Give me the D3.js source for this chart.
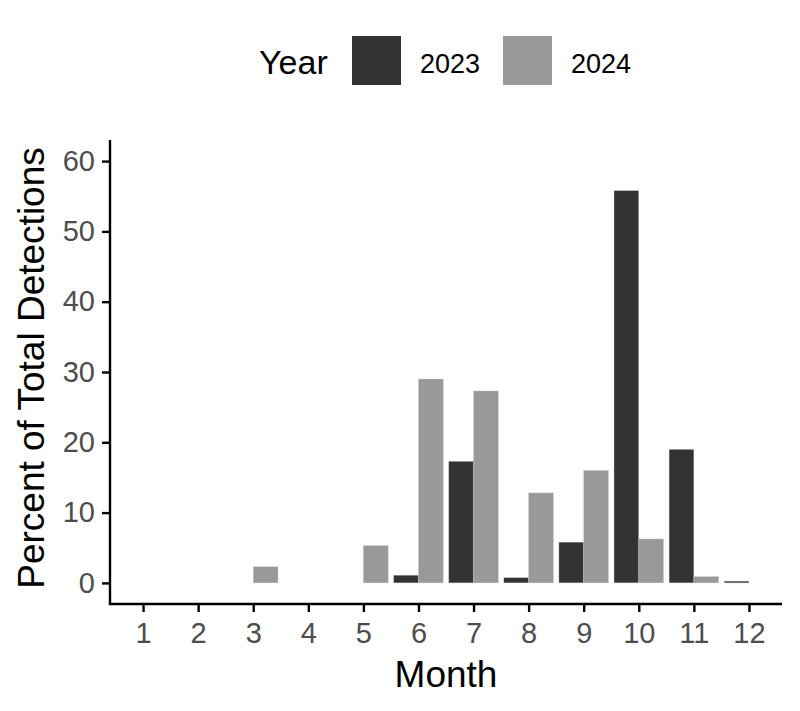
<!DOCTYPE html>
<html>
<head>
<meta charset="utf-8">
<script src="https://cdn.jsdelivr.net/npm/d3@7"></script>
<style>
  body { margin: 0; background: #fff; }
  text { font-family: "Liberation Sans", Arial, sans-serif; }
  .axis path, .axis line { stroke: #000; stroke-width: 2.4px; }
  .axis text { fill: #4d4d4d; font-size: 29px; }
</style>
</head>
<body>
<svg id="chart" width="800" height="711"></svg>
<script>
// data
var months = [1, 2, 3, 4, 5, 6, 7, 8, 9, 10, 11, 12];
var years = ["2023", "2024"];
var colors = ["#333333", "#999999"];
var yTicks = [0, 10, 20, 30, 40, 50, 60];

// percent of total detections per month (null = no bar)
var pct2023 = [null, null, null, null, null, 1.1, 17.3, 0.75, 5.8, 55.8, 19.0, 0.25];
var pct2024 = [null, null, 2.3, null, 5.3, 29.0, 27.3, 12.8, 16.0, 6.25, 0.9, null];

(function() {
    var svg = d3.select("#chart");
    var left = 110, right = 782, top = 140, bottom = 604;

    var x = d3.scaleLinear().domain([0.4, 12.6]).range([left, right]);
    var y = d3.scaleLinear().domain([-3, 63]).range([bottom, top]);

    var series = [pct2023, pct2024];
    var bars = [];
    series.forEach(function(vals, s) {
        vals.forEach(function(v, i) {
            if (v === null) return;
            bars.push({ month: months[i], value: v, s: s });
        });
    });

    svg.append("g").selectAll("rect")
        .data(bars)
        .enter()
        .append("rect")
        .attr("x", function(d) { return x(d.month - 0.45 + d.s * 0.45); })
        .attr("width", function(d) { return x(d.month + 0.45) - x(d.month); })
        .attr("y", function(d) { return y(d.value); })
        .attr("height", function(d) { return y(0) - y(d.value); })
        .attr("fill", function(d) { return colors[d.s]; })
        .attr("stroke", "#c8c8c8")
        .attr("stroke-width", 0.4);

    // axes
    var yAxis = svg.append("g")
        .attr("class", "axis")
        .attr("transform", "translate(" + left + ",0)")
        .call(d3.axisLeft(y).tickValues(yTicks).tickSize(8).tickPadding(7).tickSizeOuter(0));
    yAxis.select(".domain").attr("d", "M0," + bottom + "V" + top);

    var xAxis = svg.append("g")
        .attr("class", "axis")
        .attr("transform", "translate(0," + bottom + ")")
        .call(d3.axisBottom(x).tickValues(months).tickFormat(d3.format("d")).tickSize(8).tickPadding(10).tickSizeOuter(0));
    xAxis.select(".domain").attr("d", "M" + (left - 1.2) + ",0H" + right);

    // axis titles
    svg.append("text")
        .attr("x", (left + right) / 2)
        .attr("y", 687)
        .attr("text-anchor", "middle")
        .style("font-size", "37px")
        .text("Month");

    svg.append("text")
        .attr("transform", "translate(44," + ((top + bottom) / 2 - 4) + ") rotate(-90)")
        .attr("text-anchor", "middle")
        .style("font-size", "37px")
        .text("Percent of Total Detections");

    // legend
    var legend = svg.append("g");
    legend.append("text")
        .attr("x", 259)
        .attr("y", 74)
        .style("font-size", "34px")
        .text("Year");

    var keyX = [352, 503];
    years.forEach(function(yr, i) {
        legend.append("rect")
            .attr("x", keyX[i])
            .attr("y", 36)
            .attr("width", 49)
            .attr("height", 49)
            .attr("fill", colors[i]);
        legend.append("text")
            .attr("x", keyX[i] + 68)
            .attr("y", 73)
            .style("font-size", "27px")
            .text(yr);
    });
})();
</script>
</body>
</html>
